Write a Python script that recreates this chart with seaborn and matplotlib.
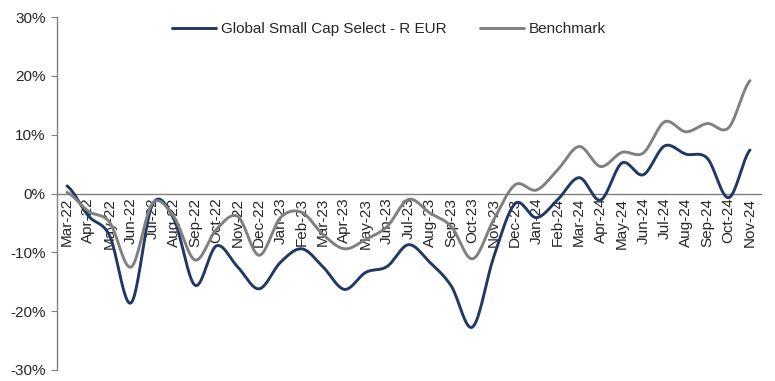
import numpy as np
import pandas as pd
import seaborn as sns
import matplotlib.pyplot as plt
from matplotlib.ticker import PercentFormatter

months = ['Mar-22', 'Apr-22', 'May-22', 'Jun-22', 'Jul-22', 'Aug-22', 'Sep-22', 'Oct-22',
          'Nov-22', 'Dec-22', 'Jan-23', 'Feb-23', 'Mar-23', 'Apr-23', 'May-23', 'Jun-23',
          'Jul-23', 'Aug-23', 'Sep-23', 'Oct-23', 'Nov-23', 'Dec-23', 'Jan-24', 'Feb-24',
          'Mar-24', 'Apr-24', 'May-24', 'Jun-24', 'Jul-24', 'Aug-24', 'Sep-24', 'Oct-24',
          'Nov-24']

fund = [1.3, -3.8, -7.2, -18.6, -1.9, -4.3, -15.6, -8.9, -12.5, -16.2, -11.7, -9.4,
        -12.5, -16.3, -13.4, -12.4, -8.7, -11.7, -15.7, -22.7, -10.7, -1.7, -4.1, -1.0,
        2.7, -1.1, 5.2, 3.2, 8.1, 6.7, 6.0, -0.7, 7.4]

benchmark = [0.2, -3.0, -4.9, -12.5, -1.7, -3.9, -11.3, -6.1, -3.9, -10.5, -4.1, -3.2,
             -7.0, -9.4, -7.8, -5.6, -1.0, -3.3, -5.6, -11.1, -4.4, 1.5, 0.6, 4.1,
             8.0, 4.6, 7.0, 6.9, 12.2, 10.5, 11.9, 11.2, 19.2]

series_names = ['Global Small Cap Select - R EUR', 'Benchmark']
colors = ['#203864', '#808080']


# Excel-style smoothed line (Catmull-Rom through the monthly points)
def smooth(y, steps=20):
    y = np.asarray(y, dtype=float)
    p = np.concatenate([[y[0]], y, [y[-1]]])
    xs, ys = [], []
    for i in range(len(y) - 1):
        p0, p1, p2, p3 = p[i], p[i + 1], p[i + 2], p[i + 3]
        t = np.linspace(0, 1, steps, endpoint=False)
        ys.append(0.5 * (2 * p1 + (-p0 + p2) * t + (2 * p0 - 5 * p1 + 4 * p2 - p3) * t ** 2
                         + (-p0 + 3 * p1 - 3 * p2 + p3) * t ** 3))
        xs.append(i + t)
    xs.append([len(y) - 1])
    ys.append([y[-1]])
    return np.concatenate(xs), np.concatenate(ys)


frames = []
for name, vals in zip(series_names, [fund, benchmark]):
    sx, sy = smooth(vals)
    frames.append(pd.DataFrame({'x': sx, 'value': sy, 'series': name}))
df = pd.concat(frames, ignore_index=True)

sns.set_style('white')
plt.rcParams['font.family'] = ['Liberation Sans', 'DejaVu Sans']
plt.rcParams['axes.unicode_minus'] = False

fig = plt.figure(figsize=(7.75, 3.81), dpi=100)
ax = fig.add_axes([0.0735, 0.029, 0.908, 0.926])

sns.lineplot(data=df, x='x', y='value', hue='series', palette=colors,
             hue_order=series_names, linewidth=2.1, sort=False, ax=ax, zorder=3)

ax.spines['top'].set_visible(False)
ax.spines['right'].set_visible(False)
ax.spines['bottom'].set_position(('data', 0))
for s in ['left', 'bottom']:
    ax.spines[s].set_color('#808080')
    ax.spines[s].set_linewidth(1.0)

ax.set_xlim(-0.47, 32.5)
ax.set_ylim(-30, 30)
ax.set_yticks(np.arange(-30, 31, 10))
ax.yaxis.set_major_formatter(PercentFormatter(decimals=0))
ax.set_xticks(range(len(months)))
ax.set_xticklabels(months)
ax.set_xlabel('')
ax.set_ylabel('')
ax.tick_params(axis='y', length=4, color='#808080', labelsize=11, pad=4, left=True)
ax.tick_params(axis='x', length=0, labelsize=11, pad=3, labelrotation=90)

ax.get_legend().remove()
handles, labels = ax.get_legend_handles_labels()
fig.legend(handles, labels, loc='center', bbox_to_anchor=(389 / 775, 0.924), ncol=2,
           frameon=False, fontsize=11, handlelength=2.9, handletextpad=0.3,
           columnspacing=2.2)

fig.savefig('out.png', dpi=100)
